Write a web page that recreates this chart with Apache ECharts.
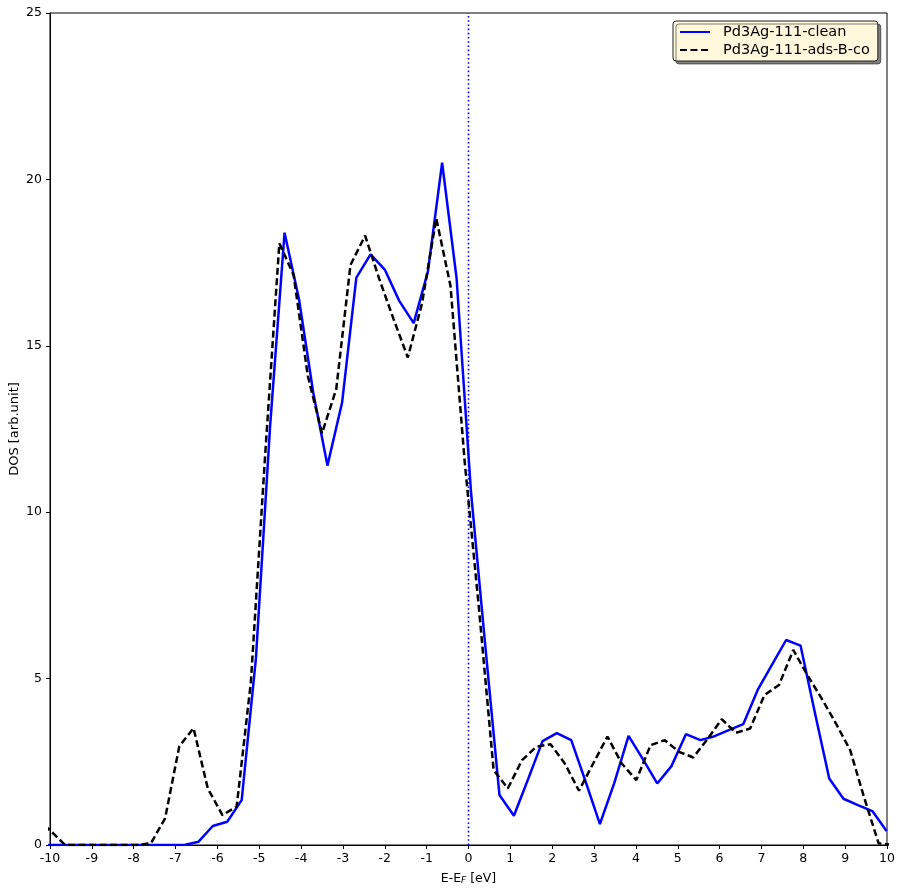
<!DOCTYPE html>
<html>
<head>
<meta charset="utf-8">
<script src="https://cdn.jsdelivr.net/npm/echarts@6/dist/echarts.min.js"></script>
<style>
html,body{margin:0;padding:0;background:#fff;}
#chart{width:905px;height:893px;}
</style>
</head>
<body>
<div id="chart"></div>
<script>
// Energy grid and DOS values (E - E_F in eV)
var cleanX = [-10.22,-9.875,-9.53,-9.19,-8.85,-8.505,-8.16,-7.82,-7.48,-7.135,-6.79,-6.45,-6.11,-5.765,-5.42,-5.08,-4.74,-4.395,-4.05,-3.71,-3.37,-3.02,-2.68,-2.34,-1.995,-1.655,-1.31,-0.97,-0.63,-0.285,0.06,0.40,0.74,1.085,1.43,1.77,2.11,2.455,2.80,3.14,3.48,3.825,4.17,4.51,4.85,5.195,5.54,5.88,6.22,6.565,6.91,7.25,7.59,7.935,8.28,8.62,8.96,9.305,9.65,9.99];
var cleanY = [0,0,0,0,0,0,0,0,0,0,0,0.1,0.57,0.70,1.35,5.6,12.6,18.4,16.4,13.6,11.4,13.3,17.05,17.75,17.28,16.35,15.68,17.23,20.5,17.03,10.6,6.0,1.5,0.88,2.0,3.12,3.36,3.15,1.9,0.63,1.85,3.28,2.57,1.85,2.37,3.33,3.15,3.27,3.45,3.63,4.66,5.41,6.16,5.99,3.96,2.0,1.39,1.2,1.02,0.42];

var adsX = [-10.32,-9.98,-9.64,-9.29,-8.95,-8.61,-8.27,-7.93,-7.59,-7.25,-6.91,-6.57,-6.23,-5.88,-5.54,-5.20,-4.86,-4.52,-4.18,-3.84,-3.50,-3.16,-2.82,-2.47,-2.13,-1.79,-1.45,-1.11,-0.77,-0.43,-0.09,0.25,0.60,0.94,1.28,1.62,1.96,2.30,2.64,2.98,3.32,3.66,4.01,4.35,4.69,5.03,5.37,5.71,6.05,6.39,6.73,7.07,7.42,7.76,8.10,8.44,8.78,9.12,9.46,9.80,10.14];
var adsY = [0.8,0.42,0,0,0,0,0,0,0.05,0.8,2.97,3.51,1.7,0.9,1.15,4.9,11.7,18.08,17.13,14.1,12.37,13.7,17.43,18.31,17.0,15.8,14.65,16.28,18.83,16.8,11.5,7.1,2.25,1.70,2.55,2.95,3.03,2.45,1.63,2.45,3.26,2.45,1.95,3.0,3.15,2.8,2.63,3.18,3.78,3.37,3.5,4.5,4.81,5.86,5.1,4.4,3.65,2.85,1.4,0.05,0];

var seriesNames = ['Pd3Ag-111-clean', 'Pd3Ag-111-ads-B-co'];
var fermiLevel = 0;
var yRange = [0, 25];

function pairs(xs, ys){ var out=[]; for(var i=0;i<xs.length;i++){ out.push([xs[i], ys[i]]); } return out; }

var FONT = 'DejaVu Sans';
var chart = echarts.init(document.getElementById('chart'), null, {renderer:'canvas'});
chart.setOption({
  animation:false,
  backgroundColor:'#ffffff',
  grid:{left:50, right:18, top:13, bottom:48, show:true, borderColor:'#000', borderWidth:1, backgroundColor:'transparent', containLabel:false, outerBoundsMode:'none'},
  xAxis:{
    type:'value', min:-10, max:10, interval:1,
    axisLine:{show:true, onZero:false, lineStyle:{color:'#000', width:1}},
    axisTick:{show:true, inside:false, length:4, lineStyle:{color:'#000', width:1}},
    axisLabel:{color:'#000', fontSize:12.5, fontFamily:FONT, margin:7},
    splitLine:{show:false},
    name:'{n|E-E}{s|F}{n| [eV]}',
    nameLocation:'middle', nameGap:22, nameMoveOverlap:false,
    nameTextStyle:{color:'#000', fontFamily:FONT, fontSize:12.5,
      rich:{
        n:{fontSize:12.5, fontFamily:FONT, color:'#000', verticalAlign:'bottom', lineHeight:18},
        s:{fontSize:9, fontFamily:FONT, fontStyle:'italic', color:'#000', verticalAlign:'bottom', lineHeight:14}
      }}
  },
  yAxis:{
    type:'value', min:yRange[0], max:yRange[1], interval:5,
    axisLine:{show:true, onZero:false, lineStyle:{color:'#000', width:1}},
    axisTick:{show:true, inside:false, length:4, lineStyle:{color:'#000', width:1}},
    axisLabel:{color:'#000', fontSize:12.5, fontFamily:FONT, margin:8},
    splitLine:{show:false},
    name:'DOS [arb.unit]', nameLocation:'middle', nameGap:29, nameMoveOverlap:false,
    nameTextStyle:{color:'#000', fontFamily:FONT, fontSize:13}
  },
  legend:{
    orient:'vertical', left:673, top:21,
    backgroundColor:'#fff8dc', borderColor:'#222', borderWidth:1, borderRadius:3,
    padding:[3,8,3,6], itemGap:2, itemWidth:30, itemHeight:14,
    shadowColor:'rgba(0,0,0,0.5)', shadowOffsetX:3, shadowOffsetY:3, shadowBlur:0,
    itemStyle:{color:'rgba(0,0,0,0)', borderWidth:0, opacity:0},
    textStyle:{fontSize:14.5, color:'#000', fontFamily:FONT, padding:[0,0,0,8], lineHeight:16},
    data:seriesNames
  },
  series:[
    {
      type:'line', name:'fermi', data:[[fermiLevel, yRange[0]], [fermiLevel, yRange[1]]],
      symbol:'none', showSymbol:false, silent:true, z:1,
      lineStyle:{color:'#0000ff', width:1.6, type:[1.6,2.6]},
      itemStyle:{color:'#0000ff'}
    },
    {
      type:'line', name:seriesNames[0], data:pairs(cleanX, cleanY),
      symbol:'none', showSymbol:false, z:2,
      lineStyle:{color:'#0000ff', width:2.5},
      itemStyle:{color:'#0000ff'}
    },
    {
      type:'line', name:seriesNames[1], data:pairs(adsX, adsY),
      symbol:'none', showSymbol:false, z:3,
      lineStyle:{color:'#000000', width:2.5, type:[7,3.5]},
      itemStyle:{color:'#000000'}
    }
  ]
});
</script>
</body>
</html>
